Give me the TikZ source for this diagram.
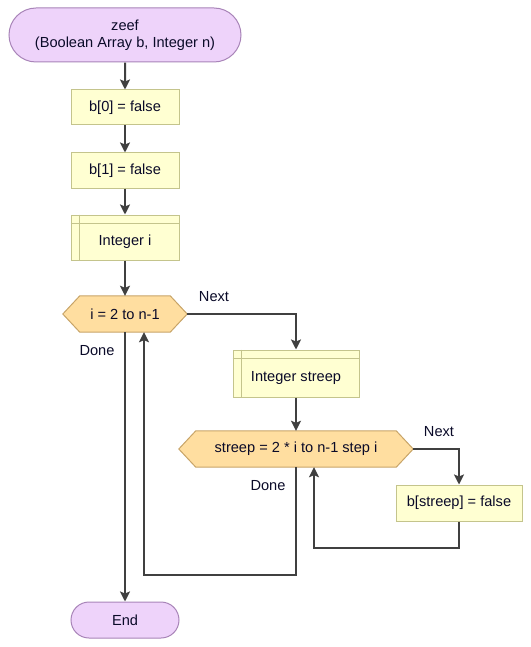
\documentclass[tikz,border=0pt]{standalone}
\usepackage{fontspec}
\setmainfont{Liberation Sans}
\usetikzlibrary{arrows.meta,backgrounds,shapes.misc}
\definecolor{termfill}{HTML}{EED3FA}
\definecolor{termdraw}{HTML}{A884B8}
\definecolor{procfill}{HTML}{FFFFD2}
\definecolor{procdraw}{HTML}{C4C48C}
\definecolor{hexfill}{HTML}{FFDEA0}
\definecolor{hexdraw}{HTML}{C8A468}
\definecolor{linec}{HTML}{404040}
\definecolor{textc}{HTML}{0A0A28}
\begin{document}
\begin{tikzpicture}[x=1pt,y=-1pt,
  font=\fontsize{14.6}{17.5}\selectfont, text=textc,
  term/.style={rounded rectangle, draw=termdraw, fill=termfill, line width=1pt, inner sep=0pt, align=center},
  proc/.style={rectangle, draw=procdraw, fill=procfill, line width=1pt, inner sep=0pt, minimum width=108pt, minimum height=35pt},
  hexbox/.style={rectangle, inner sep=0pt, minimum height=36pt},
  hexline/.style={draw=hexdraw, fill=hexfill, line width=1pt},
  hdr/.style={draw=procdraw, line width=1pt},
  arr/.style={draw=linec, line width=2pt, -{Stealth[length=10pt,width=10pt,inset=2pt]}},
  lbl/.style={inner sep=0pt}
]
\useasboundingbox (0,0) rectangle (530,647);

\node[term, minimum width=232pt, minimum height=54pt] (start) at (125,35) {zeef\\(Boolean Array b, Integer n)};
\node[proc] (b0) at (125,107.5) {b[0] = false};
\node[proc] (b1) at (125,170.5) {b[1] = false};
\node[proc, minimum height=45pt] (ii) at (125,237.5) {};
\draw[hdr] (ii.north west) ++(0,9) -- ++(108,0);
\draw[hdr] (ii.north west) ++(9,0) -- ++(0,45);
\node[lbl] (iit) at (125,242) {Integer i};

\node[hexbox, minimum width=124pt] (hi) at (125,314) {i = 2 to n-1};
\node[proc, minimum width=126pt, minimum height=47pt] (is) at (296,373.5) {};
\draw[hdr] (is.north west) ++(0,9) -- ++(126,0);
\draw[hdr] (is.north west) ++(9,0) -- ++(0,47);
\node[lbl] (ist) at (296,378) {Integer streep};

\node[hexbox, minimum width=234pt] (hs) at (296,449) {streep = 2 * i to n-1 step i};
\node[proc, minimum width=126pt, minimum height=36pt] (bs) at (459,503) {b[streep] = false};
\node[term, minimum width=108pt, minimum height=36pt] (end) at (125,620) {End};

\begin{scope}[on background layer]
\draw[hexline] (hi.west) -- ([xshift=17pt]hi.north west) -- ([xshift=-17pt]hi.north east) -- (hi.east) -- ([xshift=-17pt]hi.south east) -- ([xshift=17pt]hi.south west) -- cycle;
\draw[hexline] (hs.west) -- ([xshift=17pt]hs.north west) -- ([xshift=-17pt]hs.north east) -- (hs.east) -- ([xshift=-17pt]hs.south east) -- ([xshift=17pt]hs.south west) -- cycle;
\end{scope}

\node[lbl] (next1) at (214,297) {Next};
\node[lbl] (done1) at (97,351) {Done};
\node[lbl] (next2) at (439,432) {Next};
\node[lbl] (done2) at (268,486) {Done};

\coordinate (c1) at (314,548);
\coordinate (d1) at (296,575);
\coordinate (d2) at (144,575);

\draw[arr] (start) -- (b0);
\draw[arr] (b0) -- (b1);
\draw[arr] (b1) -- (ii);
\draw[arr] (ii) -- (hi);
\draw[arr] (hi.east) -| (is.north);
\draw[arr] (is) -- (hs);
\draw[arr] (hs.east) -| (bs.north);
\draw[arr] (bs.south) |- (c1) -- (c1 |- hs.south);
\draw[arr] (hs.south) -- (d1) -- (d2) -- (d2 |- hi.south);
\draw[arr] (hi) -- (end);
\end{tikzpicture}
\end{document}
